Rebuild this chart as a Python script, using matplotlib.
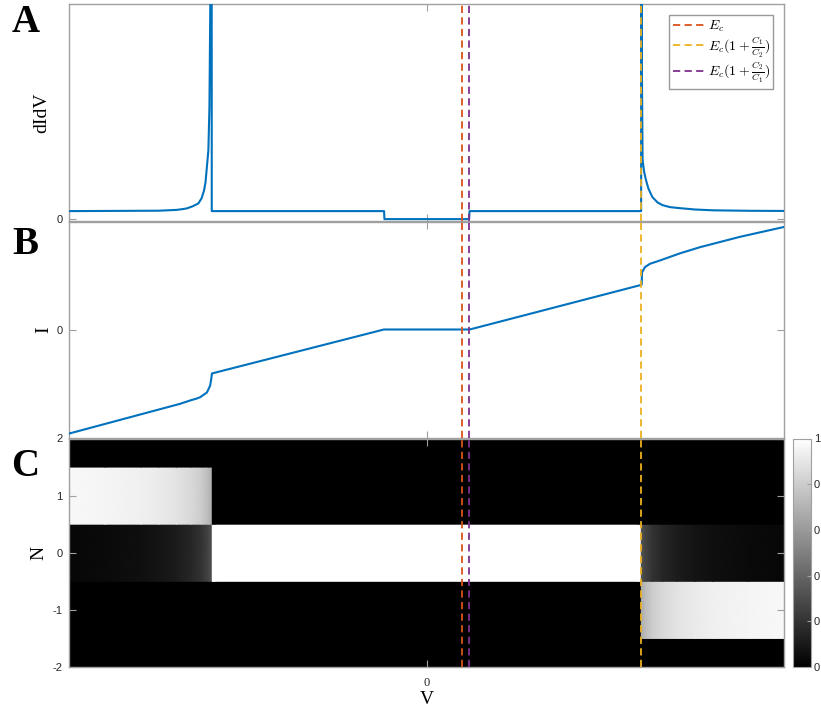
import numpy as np
import matplotlib
matplotlib.use('Agg')
import matplotlib.pyplot as plt

plt.rcParams['mathtext.fontset'] = 'cm'
plt.rcParams['axes.unicode_minus'] = False
plt.rcParams['font.family'] = ['Liberation Serif', 'DejaVu Serif']

# marker energies on the bias axis (arbitrary units)
e_c = 0.099
e_c_c1c2 = 0.6     # Ec(1 + C1/C2)
e_c_c2c1 = 0.119   # Ec(1 + C2/C1)

# differential conductance
v_didv = [-1.0, -0.75, -0.70, -0.68, -0.671, -0.655, -0.639, -0.630, -0.623,
          -0.619, -0.616, -0.611, -0.608, -0.605, -0.602, -0.6015,
          -0.1195, -0.1185, 0.1185, 0.1195, 0.5995, 0.600, 0.6015, 0.6036,
          0.608, 0.613, 0.620, 0.631, 0.645, 0.659, 0.680, 0.706, 0.75,
          0.80, 0.90, 1.0]
g_didv = [1.0, 1.05, 1.15, 1.27, 1.34, 1.6, 1.96, 2.6, 3.6,
          4.6, 6.1, 8.6, 14.0, 30.0, 80.0, 1.0,
          1.0, 0.0, 0.0, 1.0, 1.0, 80.0, 20.0, 7.4,
          5.9, 4.9, 3.8, 2.75, 2.1, 1.75, 1.5, 1.375, 1.2,
          1.1, 1.04, 1.02]

# current
v_iv = [-1.0, -0.69, -0.66, -0.645, -0.634, -0.615, -0.606, -0.603, -0.601,
        -0.12, 0.12, 0.601, 0.6015, 0.602, 0.610, 0.624, 0.652, 0.708,
        0.764, 0.876, 1.0]
i_iv = [-0.963, -0.688, -0.655, -0.641, -0.627, -0.583, -0.519, -0.46, -0.407,
        0.0, 0.0, 0.414, 0.47, 0.528, 0.577, 0.608, 0.639, 0.705,
        0.762, 0.858, 0.95]

# occupation of the charge states
n_states = [-2, -1, 0, 1, 2]
v_left = [-1.0, -0.9, -0.8, -0.75, -0.7, -0.66, -0.63, -0.61, -0.6]
p0_left = [0.03, 0.04, 0.06, 0.08, 0.11, 0.15, 0.2, 0.27, 0.33]
v_right = [0.6, 0.61, 0.63, 0.66, 0.7, 0.75, 0.8, 0.9, 1.0]
p0_right = [0.33, 0.27, 0.2, 0.15, 0.11, 0.08, 0.06, 0.04, 0.03]

blue = '#0072BD'
spine_col = '#a0a0a0'
line_cols = ['#D95319', '#EDB120', '#7E2F8E']
line_pos = [e_c, e_c_c1c2, e_c_c2c1]
line_labels = [r'$E_c$', r'$E_c(1+\frac{C_1}{C_2})$', r'$E_c(1+\frac{C_2}{C_1})$']

fig = plt.figure(figsize=(8.21, 7.09), dpi=100)
W, H = 821.0, 709.0
x0, x1 = 69.3, 784.3


def add_axes(top, bottom):
    return fig.add_axes([x0 / W, 1 - bottom / H, (x1 - x0) / W, (bottom - top) / H])


def style(ax):
    for s in ax.spines.values():
        s.set_color(spine_col)
        s.set_linewidth(1.0)
    ax.tick_params(direction='in', length=5, width=0.8, color=spine_col,
                   top=True, right=True, labelsize=8, labelcolor='#262626', pad=5)
    for lab in ax.get_yticklabels():
        lab.set_family('Liberation Sans')
    ax.set_xlim(-1, 1)


def markers(ax):
    for x, c, lab in zip(line_pos, line_cols, line_labels):
        ax.axvline(x, color=c, lw=1.3, ls=(0, (4, 2.4)), zorder=5, label=lab)


ax_a = add_axes(4, 220.7)
ax_b = add_axes(221.5, 437.5)
ax_c = add_axes(438.5, 667)
cax = fig.add_axes([793 / W, 1 - 667 / H, 18 / W, (667 - 438.5) / H])

# A: dI/dV
ax_a.plot(v_didv, g_didv, color=blue, lw=1.5, zorder=3)
markers(ax_a)
ax_a.set_ylim(-0.2, 26.9)
ax_a.set_xticks([0])
ax_a.set_xticklabels([])
ax_a.set_yticks([0])
style(ax_a)
ax_a.set_ylabel('dIdV', fontsize=14)
ax_a.yaxis.set_label_coords(-0.026, 0.5)
ax_a.legend(loc='upper right', fontsize=10, fancybox=False, edgecolor='#999999',
            framealpha=1, handlelength=2.2, handletextpad=0.3, borderpad=0.25,
            borderaxespad=0.8, labelspacing=0.0)

# B: I-V
ax_b.plot(v_iv, i_iv, color=blue, lw=1.5, zorder=3)
markers(ax_b)
ax_b.set_ylim(-1, 1)
ax_b.set_xticks([0])
ax_b.set_xticklabels([])
ax_b.set_yticks([0])
style(ax_b)
ax_b.set_ylabel('I', fontsize=14)
ax_b.yaxis.set_label_coords(-0.024, 0.5)

# C: charge state occupation
v_nodes = v_left + [-0.6, 0.6] + v_right
n_left, n_right = len(v_left), len(v_right)
rows = []
y_vert = []
for n in n_states:
    if n == 1:
        vals = [1 - p for p in p0_left] + [0, 0] + [0] * n_right
    elif n == 0:
        vals = p0_left + [1, 1] + p0_right
    elif n == -1:
        vals = [0] * n_left + [0, 0] + [1 - p for p in p0_right]
    else:
        vals = [0] * (n_left + 2 + n_right)
    rows += [vals, vals]
    y_vert += [n - 0.5, n + 0.5]
mesh = ax_c.pcolormesh(v_nodes, y_vert, np.array(rows, dtype=float),
                       shading='gouraud', cmap='gray', vmin=0, vmax=1, zorder=1)
markers(ax_c)
ax_c.set_ylim(-2, 2)
ax_c.set_xticks([0])
ax_c.set_yticks([-2, -1, 0, 1, 2])
style(ax_c)
ax_c.tick_params(axis='x', pad=7)
for lab in ax_c.get_xticklabels():
    lab.set_fontsize(9)
ax_c.set_ylabel('N', fontsize=14)
ax_c.yaxis.set_label_coords(-0.03, 0.5)
ax_c.set_xlabel('V', fontsize=14, labelpad=2)

cbar = fig.colorbar(mesh, cax=cax, ticks=[0, 0.2, 0.4, 0.6, 0.8, 1.0])
cbar.ax.set_yticklabels(['0', '0', '0', '0', '0', '1'])
cbar.outline.set_edgecolor(spine_col)
cbar.ax.tick_params(direction='in', length=3, color=spine_col, labelsize=8,
                    labelcolor='#262626', pad=2)
for lab in cbar.ax.get_yticklabels():
    lab.set_family('Liberation Sans')

for letter, yc in zip('ABC', [22, 245, 467]):
    fig.text(25.5 / W, 1 - yc / H, letter, fontsize=28, fontweight='bold',
             ha='center', va='center')

fig.savefig('out.png', dpi=100)
